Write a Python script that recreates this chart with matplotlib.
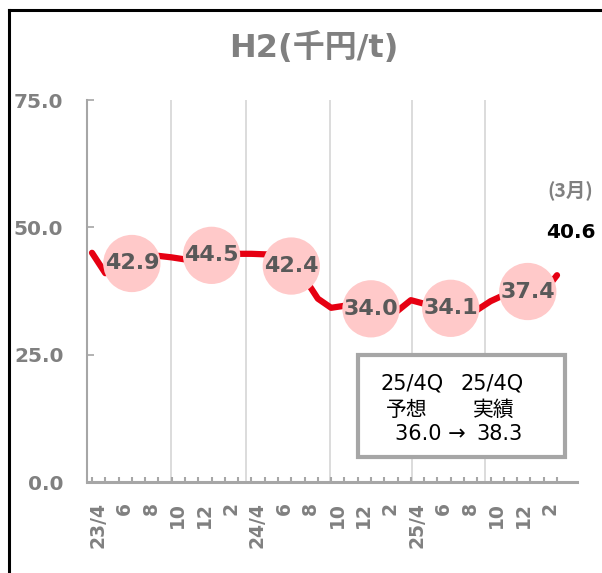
import matplotlib
matplotlib.use("Agg")
import matplotlib.pyplot as plt
from matplotlib.patches import Rectangle
from matplotlib.lines import Line2D
import matplotlib.transforms as mtransforms

# ---------------- data ----------------
months = ["23/4", "5", "6", "7", "8", "9", "10", "11", "12", "1", "2", "3",
          "24/4", "5", "6", "7", "8", "9", "10", "11", "12", "1", "2", "3",
          "25/4", "5", "6", "7", "8", "9", "10", "11", "12", "1", "2", "3"]
h2_monthly = [45.0, 41.0, 41.5, 42.5, 43.0, 44.4,
              44.1, 43.7, 44.5, 44.8, 45.1, 44.8,
              44.8, 44.7, 44.6, 44.3, 40.0, 36.0,
              34.2, 34.6, 34.0, 33.8, 33.8, 33.6,
              35.7, 35.0, 33.8, 33.2, 33.1, 33.8,
              35.5, 36.7, 37.3, 37.0, 37.3, 40.6]
half_avg_pos = [3, 9, 15, 21, 27, 32.8]
half_avg = [42.9, 44.5, 42.4, 34.0, 34.1, 37.4]
grid_pos = [5.95, 11.6, 17.9, 24.05, 29.6]
last_label = "40.6"
last_month_label = "(3月)"
box_lines = [("25/4Q", "25/4Q"), ("予想", "実績"), ("36.0 → ", "38.3")]
title = "H2(千円/t)"
yticks = [0, 25, 50, 75]

# ---------------- figure ----------------
W, H = 602, 573
fig = plt.figure(figsize=(W / 100, H / 100), dpi=100)
fam = ["DejaVu Sans", "Noto Sans CJK JP"]

def fx(x):
    return x / W

def fy(y):
    return 1 - y / H

ax_l, ax_r, ax_t, ax_b = 87, 577, 100, 482
ax = fig.add_axes([fx(ax_l), fy(ax_b), (ax_r - ax_l) / W, (ax_b - ax_t) / H])
px_per_month = (557 - 92) / 35.0
x0 = -(92 - ax_l) / px_per_month
x1 = (ax_r - 92) / px_per_month
ax.set_xlim(x0, x1)
ax.set_ylim(0, 75)

gray = "#A6A6A6"
for s in ["top", "right"]:
    ax.spines[s].set_visible(False)
ax.spines["left"].set_color(gray)
ax.spines["left"].set_linewidth(1.5)
ax.spines["bottom"].set_color(gray)
ax.spines["bottom"].set_linewidth(2.2)

for g in grid_pos:
    ax.axvline(g, color="#D9D9D9", lw=1.3, zorder=1)

x = list(range(len(h2_monthly)))
ax.plot(x, h2_monthly, color="#E60012", lw=4.5, solid_capstyle="round",
        solid_joinstyle="round", zorder=3)
ax.scatter(half_avg_pos, half_avg, s=1700, color="#FFC9C9", edgecolors="none", zorder=4)
for px_, v in zip(half_avg_pos, half_avg):
    ax.text(px_, v, f"{v:.1f}", ha="center", va="center", fontsize=16,
            fontweight="bold", color="#595959", zorder=5, family=fam)

# y axis
ax.set_yticks(yticks)
ax.set_yticklabels([f"{t:.1f}" for t in yticks], fontsize=14.5, fontweight="bold",
                   color="#808080", family=fam)
ax.tick_params(axis="y", direction="in", length=5, width=1.2, color=gray, pad=17)

# x axis
ax.set_xticks(x, minor=True)
ax.tick_params(axis="x", which="minor", direction="in", length=3.5, width=1.5, color=gray)
major = list(range(0, len(months), 2))
ax.set_xticks(major)
ax.set_xticklabels([months[i] for i in major], rotation=90, fontsize=13.5,
                   fontweight="bold", color="#808080", family=fam)
ax.tick_params(axis="x", which="major", direction="in", length=3.5, width=1.5,
               color=gray, pad=14.5)
offset = mtransforms.ScaledTranslation(6 / 100, 0, fig.dpi_scale_trans)
for lab in ax.get_xticklabels():
    lab.set_transform(lab.get_transform() + offset)

# title
fig.text(fx(314), fy(48), title, ha="center", va="center", fontsize=23,
         fontweight="bold", color="#808080", family=fam)

# last value annotations
fig.text(fx(571), fy(233), last_label, ha="center", va="center", fontsize=14.5,
         fontweight="bold", color="black", family=fam)
fig.text(fx(570), fy(190), last_month_label, ha="center", va="center", fontsize=14,
         fontweight="bold", color="#808080", family=["Noto Sans CJK JP", "DejaVu Sans"])

# annotation box
fig.patches.append(Rectangle((fx(358), fy(457)), (565 - 358) / W, (457 - 355) / H,
                             transform=fig.transFigure, facecolor="white",
                             edgecolor=gray, lw=3, zorder=10))
bt = dict(ha="center", va="center", fontsize=15, color="black", family=fam, zorder=11)
fig.text(fx(412), fy(383), box_lines[0][0], **bt)
fig.text(fx(492), fy(383), box_lines[0][1], **bt)
fig.text(fx(407), fy(410), box_lines[1][0], **bt)
fig.text(fx(494), fy(410), box_lines[1][1], **bt)
fig.text(fx(472), fy(434), box_lines[2][0], ha="right", va="center", fontsize=15,
         color="black", family=fam, zorder=11)
fig.text(fx(476), fy(434), box_lines[2][1], ha="left", va="center", fontsize=15,
         color="black", family=fam, zorder=11)

# outer frame (left and top)
fig.add_artist(Line2D([fx(9), fx(9)], [fy(10), 0], transform=fig.transFigure,
                      color="black", lw=2.2))
fig.add_artist(Line2D([fx(9), 1], [fy(10), fy(10)], transform=fig.transFigure,
                      color="black", lw=2.2))

fig.savefig("out.png", dpi=100)
